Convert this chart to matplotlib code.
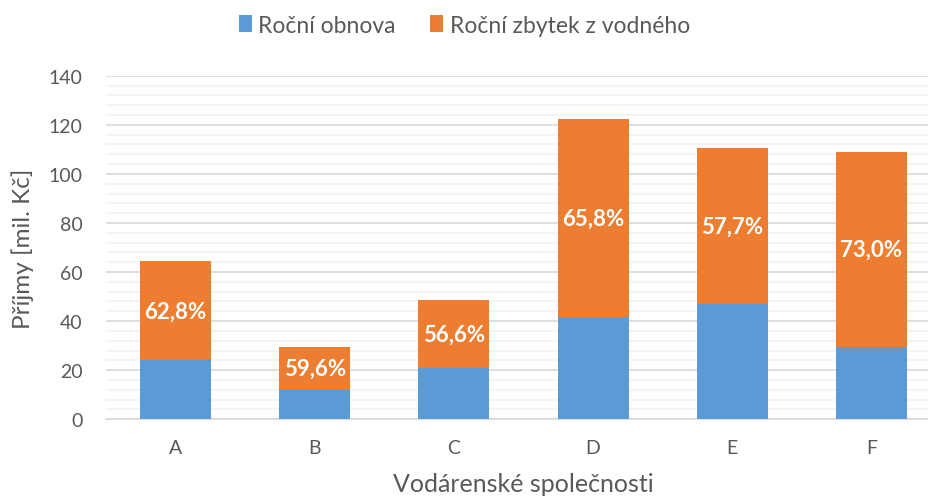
import numpy as np
import matplotlib.pyplot as plt
from matplotlib.ticker import MultipleLocator

plt.rcParams['font.family'] = ['Lato', 'DejaVu Sans']

# data
firmy = ['A', 'B', 'C', 'D', 'E', 'F']
obnova = [24.0, 11.9, 21.0, 41.8, 46.8, 29.6]
zbytek = [40.3, 17.5, 27.5, 80.6, 63.6, 79.5]
podil = ['62,8%', '59,6%', '56,6%', '65,8%', '57,7%', '73,0%']

modra = '#5B9BD5'
oranz = '#ED7D31'
seda = '#595959'

fig = plt.figure(figsize=(9.29, 5.02), dpi=100)
# plocha grafu jde trochu za pravy okraj obrazku (jako v Excelu)
ax = fig.add_axes([0.114, 0.163, 0.899, 0.684])

x = np.arange(len(firmy))
ax.bar(x, obnova, width=0.51, color=modra, label='Roční obnova', zorder=3)
ax.bar(x, zbytek, width=0.51, bottom=obnova, color=oranz,
       label='Roční zbytek z vodného', zorder=3)

# popisky procent uprostred oranzove casti
for i in range(len(firmy)):
    ax.text(x[i], obnova[i] + zbytek[i] / 2, podil[i], ha='center', va='center',
            color='white', fontsize=16, fontweight='bold', zorder=4)

ax.set_ylim(0, 140)
ax.set_xlim(-0.5, len(firmy) - 0.5)
ax.yaxis.set_major_locator(MultipleLocator(20))
ax.yaxis.set_minor_locator(MultipleLocator(4))
ax.grid(axis='y', which='major', color='#D9D9D9', lw=1.2, zorder=0)
ax.grid(axis='y', which='minor', color='#F2F2F2', lw=1.2, zorder=0)
ax.set_axisbelow(True)

ax.set_xticks(x)
ax.set_xticklabels(firmy)
ax.tick_params(axis='both', which='both', length=0, labelsize=14, colors=seda)
ax.tick_params(axis='y', pad=17)
ax.tick_params(axis='x', pad=14)

for s in ['top', 'right', 'left']:
    ax.spines[s].set_visible(False)
ax.spines['bottom'].set_color('#D9D9D9')
ax.spines['bottom'].set_linewidth(1.2)

ax.set_ylabel('Příjmy [mil. Kč]', fontsize=17.5, color=seda, labelpad=10)
ax.set_xlabel('Vodárenské společnosti', fontsize=18, color=seda, labelpad=12)

fig.legend(loc='upper center', bbox_to_anchor=(0.5, 1.01), ncol=2, frameon=False,
           fontsize=16.5, labelcolor=seda, handlelength=0.55, handleheight=0.75,
           handletextpad=0.3, columnspacing=1.5)

fig.savefig('out.png', dpi=100)
